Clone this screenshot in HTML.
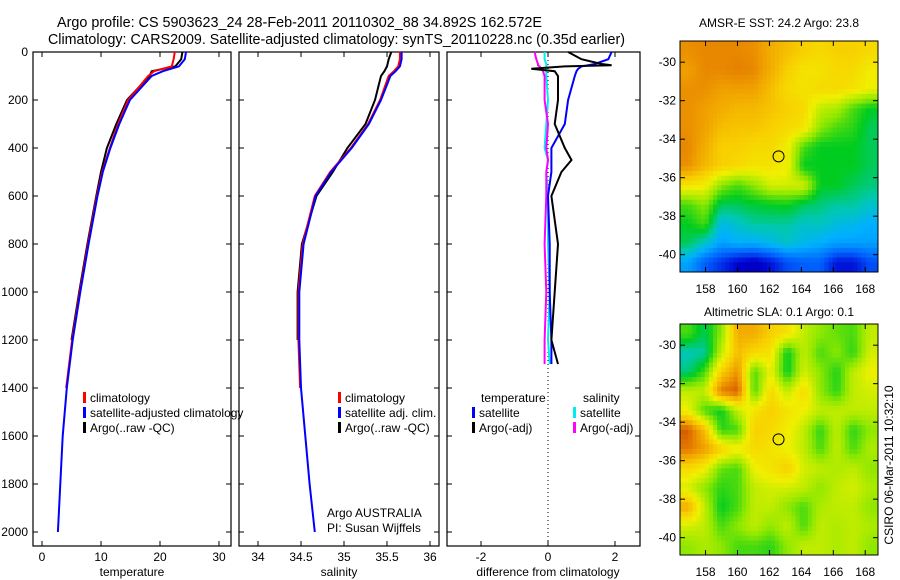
<!DOCTYPE html>
<html><head><meta charset="utf-8"><style>
body{margin:0;background:#fff;}
svg{display:block;font-family:"Liberation Sans",sans-serif;}
</style></head><body>
<svg id="fig" width="900" height="580" viewBox="0 0 900 580">
<defs>
<clipPath id="c1"><rect x="680" y="41" width="198" height="231"/></clipPath>
<clipPath id="c2"><rect x="680" y="324" width="198" height="231"/></clipPath>
</defs>
<text x="57" y="27" font-size="14.3" textLength="485" lengthAdjust="spacingAndGlyphs">Argo profile: CS 5903623_24 28-Feb-2011 20110302_88 34.892S 162.572E</text>
<text x="48" y="44" font-size="14.3" textLength="577" lengthAdjust="spacingAndGlyphs">Climatology: CARS2009. Satellite-adjusted climatology: synTS_20110228.nc (0.35d earlier)</text>
<g id="g"></g>
</svg>
<script>
// ---- data ----
const depths = [0,30,60,80,100,200,300,400,500,600,800,1000,1200,1400,1600,1800,2000];
const tClim  = [22.5,22.3,22,19,18,14.6,12.9,11.5,10.2,9.3,7.8,6.4,5.1,4.1,null,null,null];
const tSat   = [24.4,24.2,23.2,20.5,18.6,14.9,13.1,11.6,10.3,9.4,7.9,6.5,5.2,4.2,3.5,3.1,2.7];
const tArgo  = [23.8,23.6,22.6,18.6,18.2,14.4,12.6,11.0,10.0,9.2,7.7,6.3,5.0,null,null,null,null];
const sClim  = [35.65,35.65,35.63,35.58,35.52,35.42,35.28,35.08,34.84,34.66,34.52,34.47,34.47,34.49,null,null,null];
const sSat   = [35.67,35.67,35.65,35.6,35.54,35.43,35.29,35.09,34.85,34.67,34.53,34.48,34.48,34.5,34.55,34.6,34.66];
const sArgo  = [35.55,35.52,35.5,35.47,35.43,35.36,35.25,35.04,34.87,34.68,34.51,34.46,34.46,null,null,null,null];
const dDepths = [0,30,50,55,60,70,80,100,200,300,400,450,500,600,800,1000,1200,1300];
const dTSat  = [1.9,1.8,1.4,1.2,1.0,0.9,0.85,0.8,0.6,0.5,0.1,0.1,0.1,0.0,0.05,0.05,0.1,0.1];
const dTArgo = [0.6,1.0,1.6,1.9,0.5,-0.5,0.2,0.3,0.3,0.2,0.5,0.7,0.4,0.1,0.3,0.2,0.1,0.3];
const dSSat  = [-0.1,-0.1,-0.05,-0.05,-0.05,-0.05,-0.05,-0.05,0.0,-0.05,-0.1,0.0,-0.05,0.0,0.0,0.05,0.0,0.05];
const dSArgo = [-0.4,-0.35,-0.3,-0.3,-0.25,-0.2,-0.15,-0.1,-0.1,0.0,-0.05,0.0,-0.05,-0.05,-0.1,-0.05,-0.1,-0.1];
const depthTicks = [0,200,400,600,800,1000,1200,1400,1600,1800,2000];
const tTicks = [0,10,20,30];
const sTicks = [34,34.5,35,35.5,36];
const sTickLabels = ["34","34.5","35","35.5","36"];
const dTicks = [-2,0,2];
const lonTicks = [158,160,162,164,166,168];
const latTicks = [-30,-32,-34,-36,-38,-40];
const sstGrid = [
[0.82,0.83,0.83,0.83,0.82,0.78,0.75,0.72,0.7,0.72,0.72,0.7],
[0.8,0.83,0.83,0.84,0.83,0.78,0.72,0.68,0.68,0.7,0.7,0.66],
[0.82,0.82,0.8,0.8,0.8,0.75,0.7,0.68,0.7,0.7,0.68,0.65],
[0.82,0.8,0.78,0.76,0.76,0.74,0.72,0.7,0.6,0.58,0.5,0.45],
[0.82,0.8,0.75,0.74,0.74,0.72,0.7,0.68,0.55,0.5,0.48,0.42],
[0.83,0.78,0.72,0.72,0.7,0.7,0.66,0.5,0.45,0.45,0.45,0.42],
[0.82,0.76,0.72,0.7,0.68,0.68,0.66,0.45,0.45,0.45,0.45,0.42],
[0.68,0.66,0.55,0.5,0.55,0.62,0.62,0.62,0.45,0.45,0.42,0.4],
[0.5,0.55,0.42,0.42,0.44,0.45,0.46,0.42,0.4,0.38,0.38,0.35],
[0.45,0.5,0.32,0.35,0.38,0.38,0.38,0.35,0.36,0.33,0.32,0.3],
[0.42,0.35,0.28,0.3,0.3,0.32,0.35,0.32,0.3,0.28,0.28,0.28],
[0.28,0.2,0.15,0.1,0.08,0.12,0.18,0.2,0.2,0.12,0.12,0.18]];
const slaGrid = [
[0.5,0.42,0.55,0.78,0.78,0.72,0.68,0.6,0.55,0.52,0.5,0.6],
[0.36,0.38,0.6,0.75,0.7,0.68,0.45,0.6,0.5,0.55,0.48,0.62],
[0.4,0.5,0.72,0.82,0.5,0.65,0.45,0.62,0.55,0.47,0.6,0.65],
[0.6,0.6,0.85,0.88,0.5,0.7,0.6,0.7,0.55,0.48,0.6,0.62],
[0.65,0.5,0.45,0.6,0.68,0.72,0.68,0.65,0.6,0.6,0.6,0.6],
[0.88,0.75,0.48,0.5,0.72,0.7,0.66,0.6,0.48,0.6,0.48,0.55],
[0.85,0.8,0.72,0.66,0.7,0.68,0.65,0.6,0.5,0.6,0.5,0.58],
[0.7,0.66,0.52,0.5,0.65,0.68,0.72,0.62,0.6,0.58,0.6,0.55],
[0.62,0.55,0.48,0.5,0.6,0.62,0.62,0.6,0.55,0.6,0.62,0.58],
[0.78,0.6,0.45,0.5,0.6,0.6,0.55,0.5,0.58,0.6,0.6,0.55],
[0.62,0.6,0.5,0.55,0.6,0.55,0.6,0.5,0.6,0.58,0.6,0.58],
[0.55,0.58,0.55,0.5,0.5,0.48,0.55,0.6,0.6,0.58,0.6,0.55]];
const argoLon = 162.572, argoLat = -34.892;

// ---- drawing ----
const NS="http://www.w3.org/2000/svg";
const G=document.getElementById('g');
function mk(tag,attrs,parent){const e=document.createElementNS(NS,tag);for(const k in attrs)e.setAttribute(k,attrs[k]);(parent||G).appendChild(e);return e;}
function txt(x,y,s,anchor,size){const t=mk('text',{x:x,y:y,'font-size':size||12,'text-anchor':anchor||'start'});t.textContent=s;return t;}
const yD=d=>52+d*0.24;
const xT=v=>42+v*5.9;
const xS=v=>258+(v-34)*86;
const xDf=v=>548+v*33.5;
const panels=[{x0:33,x1:231,name:'temperature-panel'},{x0:239,x1:439,name:'salinity-panel'},{x0:447,x1:640,name:'difference-panel'}];
panels.forEach(p=>{
  const r=mk('rect',{x:p.x0,y:52,width:p.x1-p.x0,height:494,fill:'none',stroke:'#000','stroke-width':1.2});
  
  
  depthTicks.forEach(d=>{mk('line',{x1:p.x0,x2:p.x0+5,y1:yD(d),y2:yD(d),stroke:'#000'});mk('line',{x1:p.x1-5,x2:p.x1,y1:yD(d),y2:yD(d),stroke:'#000'});});
});
depthTicks.forEach(d=>{const t=txt(28,yD(d)+4,String(d),'end');});
function xticks(ticks,labels,fx){ticks.forEach((v,i)=>{const x=fx(v);mk('line',{x1:x,x2:x,y1:546,y2:541,stroke:'#000'});mk('line',{x1:x,x2:x,y1:52,y2:57,stroke:'#000'});const t=txt(x,561,labels[i],'middle');});}
xticks(tTicks,tTicks.map(String),xT);
xticks(sTicks,sTickLabels,xS);
xticks(dTicks,dTicks.map(String),xDf);
[['temperature',132],['salinity',339],['difference from climatology',548]].forEach(a=>{const t=txt(a[1],576,a[0],'middle');});
mk('line',{x1:xDf(0),x2:xDf(0),y1:52,y2:546,stroke:'#000','stroke-dasharray':'1,3'});
function line(ys,vals,fx,color,name,w){let pts=[];vals.forEach((v,i)=>{if(v!==null)pts.push(fx(v).toFixed(1)+','+yD(ys[i]).toFixed(1));});const l=mk('polyline',{points:pts.join(' '),fill:'none',stroke:color,'stroke-width':w||2});}
line(depths,tArgo,xT,'#000','temp-argo-line');
line(depths,tClim,xT,'#f00','temp-climatology-line');
line(depths,tSat,xT,'#00f','temp-satellite-line');
line(depths,sArgo,xS,'#000','sal-argo-line');
line(depths,sClim,xS,'#f00','sal-climatology-line');
line(depths,sSat,xS,'#00f','sal-satellite-line');
line(dDepths,dSSat,xDf,'#0ee','diff-sal-satellite-line');
line(dDepths,dSArgo,xDf,'#f0f','diff-sal-argo-line');
line(dDepths,dTSat,xDf,'#00f','diff-temp-satellite-line');
line(dDepths,dTArgo,xDf,'#000','diff-temp-argo-line');
function leg(x,y,color,label){mk('rect',{x:x,y:y-10,width:3,height:11,fill:color});const t=txt(x+7,y,label);}
leg(83,402,'#f00','climatology');leg(83,417,'#00f','satellite-adjusted climatology');leg(83,432,'#000','Argo(..raw -QC)');
leg(338,402,'#f00','climatology');leg(338,417,'#00f','satellite adj. clim.');leg(338,432,'#000','Argo(..raw -QC)');
txt(481,402,'temperature');txt(583,402,'salinity');
leg(472,417,'#00f','satellite');leg(472,432,'#000','Argo(-adj)');
leg(573,417,'#0ee','satellite');leg(573,432,'#f0f','Argo(-adj)');
txt(327,517,'Argo AUSTRALIA');txt(327,532,'PI: Susan Wijffels');
const stops=[[0,[0,0,128]],[0.1,[0,0,208]],[0.2,[0,96,255]],[0.3,[0,176,255]],[0.37,[0,200,176]],[0.45,[0,204,32]],[0.55,[144,232,0]],[0.65,[240,240,0]],[0.72,[248,208,0]],[0.8,[240,160,0]],[0.86,[224,112,0]],[0.92,[192,48,0]],[1,[160,0,0]]];
function cmap(v){v=Math.max(0,Math.min(1,v));for(let i=1;i<stops.length;i++){if(v<=stops[i][0]){const a=stops[i-1],b=stops[i],f=(v-a[0])/(b[0]-a[0]);const c=a[1].map((x,k)=>Math.round(x+(b[1][k]-x)*f));return `rgb(${c[0]},${c[1]},${c[2]})`;}}return 'rgb(160,0,0)';}
function sample(grid,fy,fx){const nr=grid.length,nc=grid[0].length;let y=Math.max(0,Math.min(nr-1,fy)),x=Math.max(0,Math.min(nc-1,fx));const y0=Math.floor(y),x0=Math.floor(x),y1=Math.min(nr-1,y0+1),x1=Math.min(nc-1,x0+1),dy=y-y0,dx=x-x0;return grid[y0][x0]*(1-dx)*(1-dy)+grid[y0][x1]*dx*(1-dy)+grid[y1][x0]*(1-dx)*dy+grid[y1][x1]*dx*dy;}
function map(y0,grid,clip,title,titleY,name){
  const lonX=l=>680+(l-156.4)*198/12.4;
  const latY=l=>y0+(-28.9-l)*231/12;
  const cg=mk('g',{'clip-path':`url(#${clip})`});
  const nr=grid.length,nc=grid[0].length,S=4;
  const cw=198/(nc*S),ch=231/(nr*S);
  for(let j=0;j<nr*S;j++)for(let i=0;i<nc*S;i++){
    const v=sample(grid,(j+0.5)/S-0.5,(i+0.5)/S-0.5);
    const c=mk('rect',{x:(680+i*cw).toFixed(2),y:(y0+j*ch).toFixed(2),width:(cw+0.6).toFixed(2),height:(ch+0.6).toFixed(2),fill:cmap(v)},cg);
    
    
  }
  const fr=mk('rect',{x:680,y:y0,width:198,height:231,fill:'none',stroke:'#000'});
  
  
  lonTicks.forEach(l=>{const x=lonX(l);mk('line',{x1:x,x2:x,y1:y0+231,y2:y0+226,stroke:'#000'});mk('line',{x1:x,x2:x,y1:y0,y2:y0+5,stroke:'#000'});txt(x,y0+252,String(l),'middle');});
  latTicks.forEach(l=>{const y=latY(l);mk('line',{x1:680,x2:685,y1:y,y2:y,stroke:'#000'});mk('line',{x1:873,x2:878,y1:y,y2:y,stroke:'#000'});txt(676,y+4,String(l),'end');});
  const t=txt(779,titleY,title,'middle');
  mk('circle',{cx:lonX(argoLon),cy:latY(argoLat),r:5.5,fill:'none',stroke:'#000'});
}
map(41,sstGrid,'c1','AMSR-E SST: 24.2 Argo: 23.8',27,'sst-map');
map(324,slaGrid,'c2','Altimetric SLA: 0.1 Argo: 0.1',316,'sla-map');
const st=txt(0,0,'CSIRO 06-Mar-2011 10:32:10','middle');
st.setAttribute('transform','translate(893,465) rotate(-90)');


</script>
</body></html>
